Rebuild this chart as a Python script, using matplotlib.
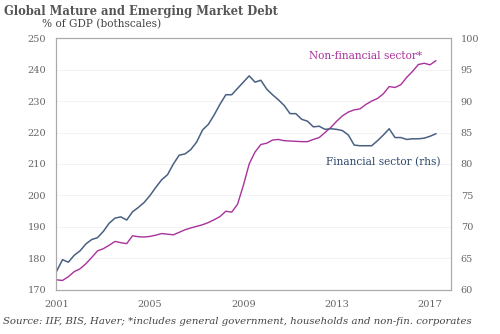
import matplotlib
matplotlib.use("Agg")
import matplotlib.pyplot as plt
import numpy as np

start_year = 2001
non_financial = [173.2, 173.0, 174.2, 175.8, 176.7, 178.3, 180.3, 182.4, 183.1, 184.2,
                 185.4, 185.0, 184.7, 187.2, 186.9, 186.8, 187.0, 187.4, 187.9, 187.7,
                 187.5, 188.3, 189.1, 189.7, 190.2, 190.7, 191.4, 192.3, 193.3, 195.0,
                 194.7, 197.2, 203.2, 210.0, 213.8, 216.2, 216.6, 217.6, 217.8, 217.4,
                 217.3, 217.2, 217.1, 217.1, 217.8, 218.4, 220.0, 221.6, 223.6, 225.3,
                 226.5, 227.2, 227.5, 228.9, 230.0, 230.8, 232.3, 234.6, 234.3, 235.2,
                 237.5, 239.4, 241.6, 242.0, 241.5, 242.8]
financial = [63.0, 64.8, 64.4, 65.5, 66.2, 67.3, 68.0, 68.3, 69.3, 70.6,
             71.4, 71.6, 71.1, 72.4, 73.1, 73.9, 75.0, 76.3, 77.5, 78.3,
             80.0, 81.4, 81.6, 82.3, 83.5, 85.4, 86.3, 87.8, 89.5, 91.0,
             91.0, 92.0, 93.0, 94.0, 93.0, 93.3, 91.9, 91.0, 90.2, 89.3,
             88.0, 88.0, 87.1, 86.8, 85.9, 86.0, 85.5, 85.6, 85.5, 85.3,
             84.6, 83.0, 82.9, 82.9, 82.9, 83.7, 84.6, 85.6, 84.2, 84.2,
             83.9, 84.0, 84.0, 84.1, 84.4, 84.8]
x_ticks = [2001, 2005, 2009, 2013, 2017]
left_ticks = [170, 180, 190, 200, 210, 220, 230, 240, 250]
right_ticks = [60, 65, 70, 75, 80, 85, 90, 95, 100]

t = start_year + np.arange(len(non_financial)) / 4.0

serif = ["DejaVu Serif"]
blue = "#4a6083"
magenta = "#a8329c"
grey = "#666666"

fig = plt.figure(figsize=(5, 3.34), dpi=100)
ax = fig.add_axes([0.112, 0.132, 0.79, 0.754])
ax2 = ax.twinx()

ax.plot(t, non_financial, color=magenta, lw=1.0)
ax2.plot(t, financial, color=blue, lw=1.1)

ax.set_xlim(2000.97, 2017.9)
ax.set_ylim(170, 250)
ax2.set_ylim(60, 100)
ax.set_xticks(x_ticks)
ax.set_xticklabels([str(v) for v in x_ticks], fontsize=7, family=serif, color=grey)
ax.set_yticks(left_ticks)
ax.set_yticklabels([str(v) for v in left_ticks], fontsize=7, family=serif, color=grey)
ax2.set_yticks(right_ticks)
ax2.set_yticklabels([str(v) for v in right_ticks], fontsize=7, family=serif, color=grey)
for a in (ax, ax2):
    a.tick_params(length=0, pad=7)
    for s in a.spines.values():
        s.set_color("#aaaaaa")
        s.set_linewidth(0.8)
ax.grid(axis="y", color="#f1f1f1", lw=0.6)
ax.set_axisbelow(True)

ax.text(0.64, 0.93, "Non-financial sector*", transform=ax.transAxes, color=magenta,
        fontsize=7.6, family=serif, ha="left", va="center")
ax.text(0.683, 0.506, "Financial sector (rhs)", transform=ax.transAxes, color="#2f4a6e",
        fontsize=7.6, family=serif, ha="left", va="center")

fig.text(0.008, 0.965, "Global Mature and Emerging Market Debt", fontsize=8.3,
         fontweight="bold", family=serif, color="#555555", ha="left", va="center")
fig.text(0.085, 0.928, "% of GDP (bothscales)", fontsize=7.6, family=serif,
         color="#444444", ha="left", va="center")
fig.text(0.006, 0.036, "Source: IIF, BIS, Haver; *includes general government, households and non-fin. corporates",
         fontsize=7.3, family=serif, style="italic", color="#444444", ha="left", va="center")

fig.savefig("out.png", dpi=100)
